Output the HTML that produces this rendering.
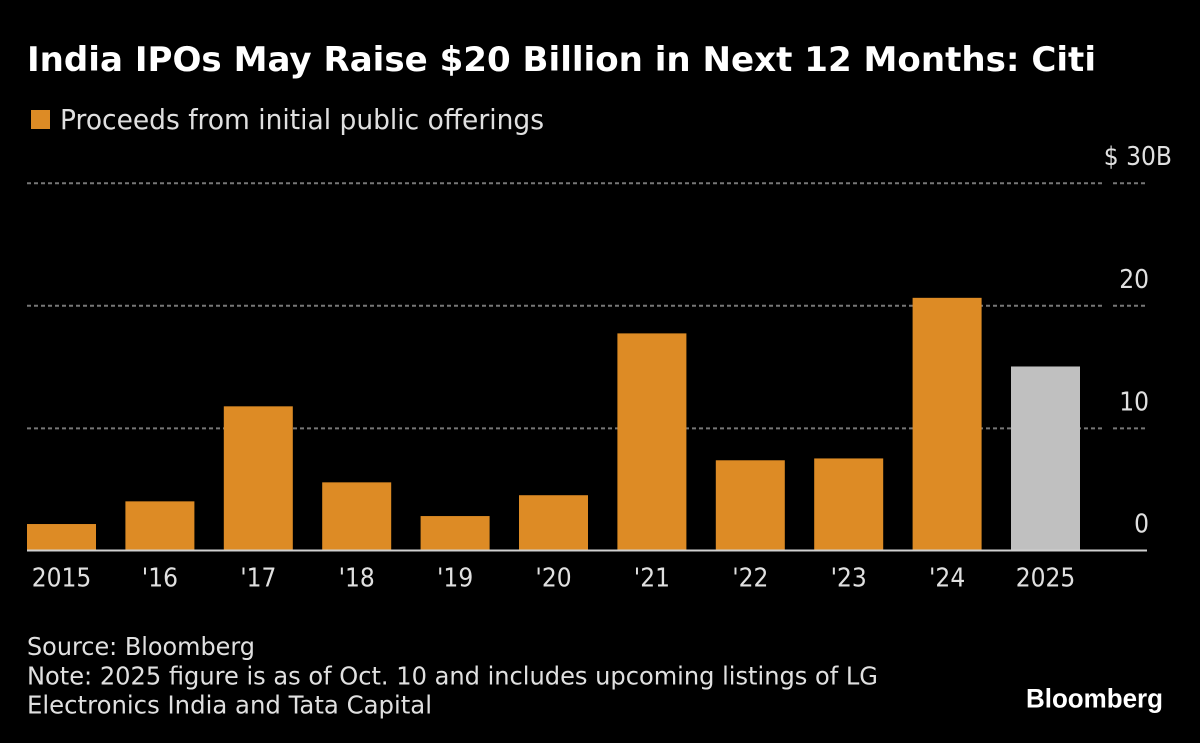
<!DOCTYPE html>
<html>
<head>
<meta charset="utf-8">
<style>
html,body{margin:0;padding:0;background:#000;width:1200px;height:743px;overflow:hidden}
svg{display:block}
text{font-family:"DejaVu Sans","Liberation Sans",sans-serif;fill:#e0e0e0}
.lib{font-family:"Liberation Sans",sans-serif}
</style>
</head>
<body>
<svg id="chart" width="1200" height="743" viewBox="0 0 1200 743">
  <rect width="1200" height="743" fill="#000"/>
  <text x="27" y="71" font-size="33.5" font-weight="700" style="fill:#fff" textLength="1069" lengthAdjust="spacingAndGlyphs">India IPOs May Raise $20 Billion in Next 12 Months: Citi</text>
  <rect x="31" y="110" width="19" height="19" fill="#dd8b25"/>
  <text x="60" y="129" font-size="27.5" textLength="484" lengthAdjust="spacingAndGlyphs">Proceeds from initial public offerings</text>
  <g id="grid"></g>
  <g id="bars"></g>
  <g id="ylabels"></g>
  <g id="xlabels"></g>
  <text x="27" y="655" font-size="24.5" textLength="228" lengthAdjust="spacingAndGlyphs">Source: Bloomberg</text>
  <text x="27" y="684.5" font-size="24.5" textLength="851" lengthAdjust="spacingAndGlyphs">Note: 2025 figure is as of Oct. 10 and includes upcoming listings of LG</text>
  <text x="27" y="713.5" font-size="24.5" textLength="405" lengthAdjust="spacingAndGlyphs">Electronics India and Tata Capital</text>
  <text class="lib" x="1026" y="707.5" font-size="27" font-weight="700" style="fill:#fff" textLength="137" lengthAdjust="spacingAndGlyphs">Bloomberg</text>
</svg>
<script>
const categories = ["2015", "'16", "'17", "'18", "'19", "'20", "'21", "'22", "'23", "'24", "2025"];
const proceeds = [2.2, 4.05, 11.8, 5.6, 2.85, 4.55, 17.75, 7.4, 7.55, 20.65, 15.05];
const yTicks = [0, 10, 20, 30];
const yTickLabels = ["0", "10", "20", "$ 30B"];

const NS = "http://www.w3.org/2000/svg";
const baseY = 551, pxPerUnit = 12.26;
const firstX = 27, stepX = 98.4, barW = 69;
const plotRight = 1147, seamStart = 1105, seamEnd = 1113;
const labelSqueeze = 0.9;
const yScale = v => baseY - v * pxPerUnit;
const xScale = i => firstX + i * stepX;
const make = (parent, tag, attrs, txt) => {
  const el = document.createElementNS(NS, tag);
  for (const k in attrs) el.setAttribute(k, attrs[k]);
  if (txt !== undefined) el.textContent = txt;
  parent.appendChild(el);
  return el;
};
const squeeze = el => {
  el.setAttribute('textLength', (el.getComputedTextLength() * labelSqueeze).toFixed(1));
  el.setAttribute('lengthAdjust', 'spacingAndGlyphs');
};
const grid = document.getElementById('grid');
const barsG = document.getElementById('bars');
const yG = document.getElementById('ylabels');
const xG = document.getElementById('xlabels');

yTicks.forEach((t, i) => {
  const y = yScale(t);
  if (t !== 0) {
    const lineA = make(grid, 'line', {x1: firstX, x2: seamStart, y1: y, y2: y, stroke: '#777', 'stroke-width': 2, 'stroke-dasharray': '4 3'});
    
    
    const lineB = make(grid, 'line', {x1: seamEnd, x2: plotRight, y1: y, y2: y, stroke: '#777', 'stroke-width': 2, 'stroke-dasharray': '4 3'});
    
    
  }
  const label = make(yG, 'text', {x: i === 3 ? 1172 : 1149, y: y - (t === 0 ? 18.5 : 18), 'text-anchor': 'end', 'font-size': 26}, yTickLabels[i]);
  squeeze(label);
  
  
});

proceeds.forEach((v, i) => {
  const y = yScale(v);
  const bar = make(barsG, 'rect', {x: xScale(i), y: y, width: barW, height: baseY - y, fill: i === proceeds.length - 1 ? '#c0c0c0' : '#dd8b25'});
  
  
  const label = make(xG, 'text', {x: xScale(i) + barW / 2, y: 586.5, 'text-anchor': 'middle', 'font-size': 26}, categories[i]);
  squeeze(label);
  
  
});

const axis = make(barsG, 'line', {x1: firstX, x2: plotRight, y1: baseY - 0.5, y2: baseY - 0.5, stroke: '#d0d0d0', 'stroke-width': 2});


</script>
</body>
</html>
